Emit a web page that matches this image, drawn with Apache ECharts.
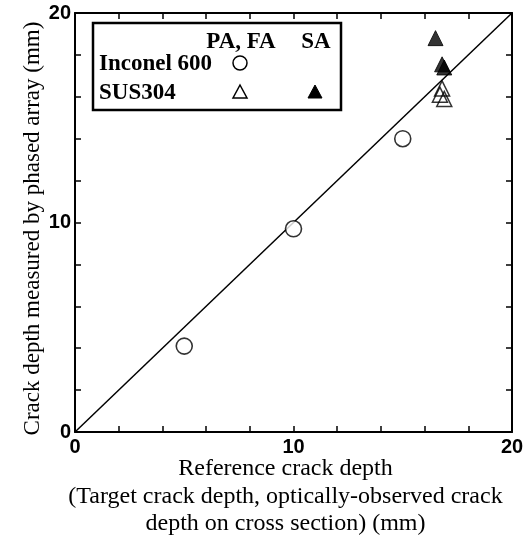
<!DOCTYPE html>
<html>
<head>
<meta charset="utf-8">
<script src="https://cdn.jsdelivr.net/npm/echarts@6/dist/echarts.min.js"></script>
<style>
  html, body { margin: 0; padding: 0; background: #fff; }
  #chart { width: 529px; height: 535px; }
</style>
</head>
<body>
<div id="chart"></div>
<script>
// Axis ranges and tick labels
const axisMin = 0;
const axisMax = 20;
const tickStep = 2;
const labeledTicks = [0, 10, 20];

// Inconel 600, PA/FA measurements [reference depth, measured depth]
const inconelPaFa = [[5, 4.1], [10, 9.7], [15, 14.0]];
// SUS304, PA/FA measurements
const sus304PaFa = [[16.8, 16.4], [16.7, 16.1], [16.9, 15.9]];
// SUS304, SA measurements
const sus304Sa = [[16.5, 18.8], [16.8, 17.55], [16.9, 17.4]];
// Line of equality
const equalityLine = [[0, 0], [20, 20]];

const serif = '"Liberation Serif", "Times New Roman", serif';
const sans = '"Liberation Sans", Arial, sans-serif';

const chart = echarts.init(document.getElementById('chart'), null, { renderer: 'canvas' });

function tickLabel(v) {
  return labeledTicks.indexOf(v) >= 0 ? String(v) : '';
}

const baseAxis = {
  min: axisMin,
  max: axisMax,
  interval: tickStep,
  splitLine: { show: false },
  axisLine: { show: true, onZero: false, lineStyle: { color: '#000', width: 2 } },
  axisTick: { show: true, inside: true, length: 6, lineStyle: { color: '#000', width: 1.5 } }
};

const option = {
  animation: false,
  backgroundColor: '#fff',
  grid: { left: 75, right: 17, top: 13, bottom: 103, containLabel: false, outerBoundsMode: 'none' },
  xAxis: [
    Object.assign({}, baseAxis, {
      type: 'value', position: 'bottom',
      axisLabel: { formatter: tickLabel, color: '#000', fontFamily: sans, fontWeight: 'bold', fontSize: 20, margin: 5, showMinLabel: true, showMaxLabel: true },
      name: 'Reference crack depth\n(Target crack depth, optically-observed crack\ndepth on cross section) (mm)',
      nameLocation: 'middle',
      nameGap: 23,
      nameMoveOverlap: false,
      nameTextStyle: { color: '#000', fontFamily: serif, fontSize: 24, lineHeight: 27.5, verticalAlign: 'top', align: 'center', padding: [0, 16, 0, 0] }
    }),
    Object.assign({}, baseAxis, {
      type: 'value', position: 'top',
      axisLabel: { show: false }
    })
  ],
  yAxis: [
    Object.assign({}, baseAxis, {
      type: 'value', position: 'left',
      axisLabel: { formatter: tickLabel, color: '#000', fontFamily: sans, fontWeight: 'bold', fontSize: 20, margin: 4, showMinLabel: true, showMaxLabel: true },
      name: 'Crack depth measured by phased array (mm)',
      nameLocation: 'middle',
      nameGap: 31,
      nameMoveOverlap: false,
      nameTextStyle: { color: '#000', fontFamily: serif, fontSize: 23, padding: [0, 12, 0, 0] }
    }),
    Object.assign({}, baseAxis, {
      type: 'value', position: 'right',
      axisLabel: { show: false }
    })
  ],
  series: [
    {
      type: 'line', data: equalityLine, symbol: 'none', silent: true,
      lineStyle: { color: '#000', width: 1.5 }, z: 2
    },
    {
      name: 'Inconel 600 PA, FA', type: 'scatter', data: inconelPaFa,
      symbol: 'circle', symbolSize: 16,
      itemStyle: { color: '#fff', borderColor: '#000', borderWidth: 1.6 }, z: 3
    },
    {
      name: 'SUS304 PA, FA', type: 'scatter', data: sus304PaFa,
      symbol: 'triangle', symbolSize: 15,
      itemStyle: { color: 'rgba(255,255,255,0)', borderColor: '#000', borderWidth: 1.5 }, z: 3
    },
    {
      name: 'SUS304 SA', type: 'scatter', data: sus304Sa,
      symbol: 'triangle', symbolSize: 15,
      itemStyle: { color: '#000', borderColor: '#000', borderWidth: 1 }, z: 4
    }
  ],
  graphic: [
    { type: 'rect', shape: { x: 93, y: 23, width: 248, height: 87 },
      style: { fill: '#fff', stroke: '#000', lineWidth: 2.5 }, z: 10 },
    { type: 'text', x: 241, y: 42, style: { text: 'PA, FA', fill: '#000', font: 'bold 23px ' + serif, textAlign: 'center', textVerticalAlign: 'middle' }, z: 11 },
    { type: 'text', x: 316, y: 42, style: { text: 'SA', fill: '#000', font: 'bold 23px ' + serif, textAlign: 'center', textVerticalAlign: 'middle' }, z: 11 },
    { type: 'text', x: 99, y: 64, style: { text: 'Inconel 600', fill: '#000', font: 'bold 23px ' + serif, textAlign: 'left', textVerticalAlign: 'middle' }, z: 11 },
    { type: 'text', x: 99, y: 93, style: { text: 'SUS304', fill: '#000', font: 'bold 23px ' + serif, textAlign: 'left', textVerticalAlign: 'middle' }, z: 11 },
    { type: 'circle', shape: { cx: 240, cy: 63, r: 7 }, style: { fill: '#fff', stroke: '#000', lineWidth: 1.5 }, z: 11 },
    { type: 'polygon', shape: { points: [[240, 85], [247, 98], [233, 98]] }, style: { fill: '#fff', stroke: '#000', lineWidth: 1.5 }, z: 11 },
    { type: 'polygon', shape: { points: [[315, 85], [322, 98], [308, 98]] }, style: { fill: '#000', stroke: '#000', lineWidth: 1 }, z: 11 }
  ]
};

chart.setOption(option);
</script>
</body>
</html>
